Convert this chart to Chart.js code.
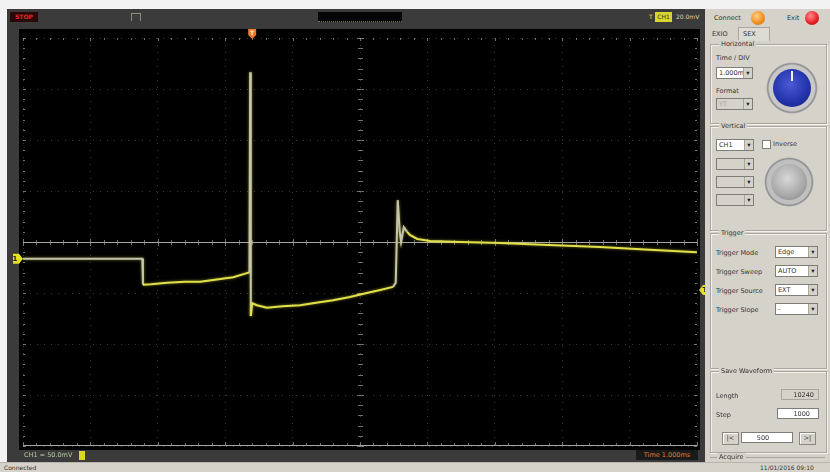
<!DOCTYPE html>
<html>
<head>
<meta charset="utf-8">
<script src="https://cdn.jsdelivr.net/npm/chart.js@4"></script>
<style>
  body { margin: 0; width: 830px; height: 472px; background: #f2f2f2; position: relative; overflow: hidden;
         font-family: "DejaVu Sans", sans-serif; font-size: 6.5px; color: #333; }
  .abs { position: absolute; }
  #frame { left: 7px; top: 9px; width: 698px; height: 453px; background: #3b3b3b; }
  #screen { left: 19px; top: 29px; width: 681px; height: 421px; background: #000; }
  #scope { left: 13px; top: 28px; }
  #panel { left: 705px; top: 9px; width: 125px; height: 454px; background: #d5d2ca; }
  #status { left: 0; top: 462px; width: 830px; height: 10px; background: #d5d2ca; border-top: 1px solid #b8b5ae; }
  .grp { position: absolute; border: 1px solid #a9a6a0; box-shadow: 1px 1px 0 #f4f2ee inset, 1px 1px 0 #f4f2ee; }
  .grp > .lbl { position: absolute; top: -5px; left: 8px; background: #d5d2ca; padding: 0 2px; }
  .sel { position: absolute; background: #fff; border: 1px solid #7f7d78; line-height: 10px; padding-left: 2px; box-sizing: border-box; height: 12px; }
  .sel.dis { background: #d5d2ca; color: #a8a6a0; }
  .sel::after { content: "\25BE"; position: absolute; right: 0; top: 0; width: 8px; height: 10px; background: #d5d2ca; border-left: 1px solid #a9a6a0; text-align: center; color: #222; }
  .knob { position: absolute; border-radius: 50%; }
  .btn { position: absolute; background: #d5d2ca; border: 1px solid #8a8780; box-shadow: 1px 1px 0 #fff inset; text-align: center; line-height: 10px; height: 11px; }
  .inp { position: absolute; background: #fff; border: 1px solid #7f7d78; height: 11px; line-height: 11px; text-align: right; padding-right: 8px; box-sizing: border-box; }
</style>
</head>
<body>
<div id="frame" class="abs"></div>
<!-- top bar -->
<div class="abs" style="left:10px;top:12px;width:28px;height:10px;background:#2a0808;color:#e02828;font-size:6px;line-height:10px;text-align:center;font-weight:bold;">STOP</div>
<div class="abs" style="left:131px;top:13px;width:8px;height:7px;border:1px solid #8a8a80;border-bottom:none;"></div>
<div class="abs" style="left:318px;top:12px;width:84px;height:10px;background:#050505;border-bottom:1px dotted #6a7a50;box-sizing:border-box;"></div>
<div class="abs" style="left:649px;top:13px;color:#e8e030;font-size:6px;">T</div>
<div class="abs" style="left:655px;top:12px;width:17px;height:10px;background:#d6d62c;color:#333;font-size:6px;line-height:10px;text-align:center;">CH1</div>
<div class="abs" style="left:676px;top:13px;color:#d8d8b0;font-size:6px;">20.0mV</div>
<div id="screen" class="abs"></div>
<canvas id="scope" class="abs" width="694" height="428"></canvas>
<!-- bottom bar -->
<div class="abs" style="left:24px;top:451px;color:#b8c8a0;font-size:6.5px;">CH1 &#8776; 50.0mV</div>
<div class="abs" style="left:79px;top:451px;width:6px;height:9px;background:#d6d62c;"></div>
<div class="abs" style="left:636px;top:450px;width:62px;height:10px;background:#1a1a1a;color:#e07a30;font-size:6.5px;line-height:10px;text-align:center;">Time 1.000ms</div>

<div id="panel" class="abs">
  <div class="abs" style="left:9px;top:5px;">Connect</div>
  <div class="knob" style="left:46px;top:2px;width:14px;height:14px;background:radial-gradient(circle at 40% 35%,#ffd08a,#f08a1c 60%,#c86a10);"></div>
  <div class="abs" style="left:82px;top:5px;">Exit</div>
  <div class="knob" style="left:100px;top:2px;width:14px;height:14px;background:radial-gradient(circle at 40% 35%,#ff8a8a,#e81c24 60%,#a81010);"></div>
  <div class="abs" style="left:7px;top:21px;">EXIO</div>
  <div class="abs" style="left:33px;top:18px;width:30px;height:13px;border:1px solid #a9a6a0;border-bottom:none;background:#dedbd4;"></div>
  <div class="abs" style="left:38px;top:21px;">SEX</div>

  <div class="grp" style="left:5px;top:35px;width:115px;height:78px;">
    <div class="lbl">Horizontal</div>
    <div class="abs" style="left:5px;top:9px;">Time / DIV</div>
    <div class="sel" style="left:5px;top:22px;width:37px;">1.000ms</div>
    <div class="abs" style="left:5px;top:42px;">Format</div>
    <div class="sel dis" style="left:5px;top:53px;width:37px;">YT</div>
    <div class="knob" style="left:55px;top:17px;width:52px;height:52px;background:radial-gradient(circle,#c8c8c8 62%,#8a8a8a 66%,#e8e8e8 72%,#9a9a9a 100%);"></div>
    <div class="knob" style="left:62px;top:24px;width:38px;height:38px;background:radial-gradient(circle at 45% 40%,#4a5ad8,#2232a8 60%,#14207a);"></div>
    <div class="abs" style="left:80px;top:26px;width:2px;height:10px;background:#f0f0f0;"></div>
  </div>

  <div class="grp" style="left:5px;top:117px;width:115px;height:103px;">
    <div class="lbl">Vertical</div>
    <div class="sel" style="left:5px;top:12px;width:38px;">CH1</div>
    <div class="abs" style="left:51px;top:13px;width:7px;height:7px;background:#fff;border:1px solid #7f7d78;"></div>
    <div class="abs" style="left:62px;top:13px;">Inverse</div>
    <div class="sel dis" style="left:5px;top:31px;width:38px;"></div>
    <div class="sel dis" style="left:5px;top:49px;width:38px;"></div>
    <div class="sel dis" style="left:5px;top:67px;width:38px;"></div>
    <div class="knob" style="left:53px;top:30px;width:50px;height:50px;background:radial-gradient(circle,#c0c0c0 62%,#8a8a8a 66%,#e8e8e8 72%,#9a9a9a 100%);"></div>
    <div class="knob" style="left:60px;top:37px;width:36px;height:36px;background:radial-gradient(circle at 45% 40%,#d8d8d8,#a8a8a8 60%,#7a7a7a);"></div>
  </div>

  <div class="grp" style="left:5px;top:224px;width:115px;height:134px;">
    <div class="lbl">Trigger</div>
    <div class="abs" style="left:5px;top:15px;">Trigger Mode</div>
    <div class="sel" style="left:64px;top:12px;width:43px;">Edge</div>
    <div class="abs" style="left:5px;top:34px;">Trigger Sweep</div>
    <div class="sel" style="left:64px;top:31px;width:43px;">AUTO</div>
    <div class="abs" style="left:5px;top:53px;">Trigger Source</div>
    <div class="sel" style="left:64px;top:50px;width:43px;">EXT</div>
    <div class="abs" style="left:5px;top:72px;">Trigger Slope</div>
    <div class="sel" style="left:64px;top:69px;width:43px;">-</div>
  </div>

  <div class="grp" style="left:5px;top:362px;width:115px;height:80px;">
    <div class="lbl">Save Waveform</div>
    <div class="abs" style="left:5px;top:20px;">Length</div>
    <div class="abs" style="left:70px;top:17px;width:38px;height:11px;border:1px solid #a9a6a0;text-align:right;line-height:11px;padding-right:4px;box-sizing:border-box;">10240</div>
    <div class="abs" style="left:5px;top:39px;">Step</div>
    <div class="inp" style="left:66px;top:36px;width:42px;">1000</div>
    <div class="btn" style="left:11px;top:60px;width:15px;">|&lt;</div>
    <div class="inp" style="left:30px;top:60px;width:52px;text-align:center;">500</div>
    <div class="btn" style="left:88px;top:60px;width:15px;">&gt;|</div>
  </div>
  <div class="abs" style="left:5px;top:448px;width:115px;height:8px;border-top:1px solid #a9a6a0;"></div>
  <div class="abs" style="left:12px;top:444px;background:#d5d2ca;padding:0 2px;">Acquire</div>
</div>
<div id="status" class="abs">
  <div class="abs" style="left:4px;top:1px;font-size:6px;">Connected</div>
  <div class="abs" style="left:760px;top:1px;font-size:6px;">11/01/2016 09:10</div>
</div>

<script>
// CH1 capture, time in ms (1.000ms/div), voltage in mV (50.0mV/div)
const timeMs = [0, 1.0, 1.77, 1.78, 1.9, 2.14, 2.4, 2.63, 2.9, 3.12, 3.32, 3.36, 3.37, 3.38, 3.40, 3.47,
  3.62, 3.85, 4.11, 4.35, 4.60, 4.85, 5.10, 5.30, 5.49, 5.53, 5.56, 5.59, 5.61, 5.65, 5.70, 5.74,
  5.85, 6.04, 6.5, 7.08, 7.8, 8.56, 9.3, 10];
const ch1mV = [-16.5, -16.5, -16.5, -42, -41.5, -40, -39, -39, -36.5, -34.5, -30.5, -30, 166.5, -72.5, -60, -62,
  -64.5, -63, -62, -59.5, -57, -54, -50, -47, -44, -40, 41, 10, 0, 14.5, 10, 7,
  3, 1, 0, -1, -3, -5, -7.5, -10];
// indices of segments drawn in the greyish colour (flat start, spikes)
const greySegments = [0, 1, 2, 11, 12, 24, 25, 26, 27, 28, 29];

const ch1Ground = -16.5;     // mV, CH1 marker level
const triggerLevel = -47;    // mV, trigger marker level
const triggerTime = 3.40;    // ms, trigger position marker

const yellow = '#e2e04a';

const scopePlugin = {
  id: 'scope',
  beforeDatasetsDraw(chart) {
    const { ctx, chartArea: a, scales: { x, y } } = chart;
    const cx = x.getPixelForValue(5), cy = y.getPixelForValue(0);
    const dx = (x.getPixelForValue(1) - x.getPixelForValue(0)) / 5;
    const dy = (y.getPixelForValue(0) - y.getPixelForValue(50)) / 5;
    ctx.save();
    ctx.strokeStyle = '#a6a6a6';
    ctx.lineWidth = 1;
    // centre horizontal axis
    ctx.beginPath();
    ctx.moveTo(a.left, Math.round(cy) + 0.5); ctx.lineTo(a.right, Math.round(cy) + 0.5);
    // bottom edge
    ctx.moveTo(a.left, Math.round(a.bottom) - 0.5); ctx.lineTo(a.right, Math.round(a.bottom) - 0.5);
    ctx.stroke();
    ctx.beginPath();
    for (let i = 0; i <= 50; i++) {
      const px = Math.round(a.left + i * dx) + 0.5;
      const h = i % 5 === 0 ? 3 : 2;
      ctx.moveTo(px, cy - h); ctx.lineTo(px, cy + h + 1);
      ctx.moveTo(px, a.bottom); ctx.lineTo(px, a.bottom - h - 1);
      ctx.moveTo(px, a.top); ctx.lineTo(px, a.top + h);
    }
    for (let i = 0; i <= 40; i++) {
      const py = Math.round(a.top + i * dy) + 0.5;
      const w = i % 5 === 0 ? 3 : 2;
      ctx.moveTo(cx - w, py); ctx.lineTo(cx + w + 1, py);
      ctx.moveTo(a.left, py); ctx.lineTo(a.left + w, py);
      ctx.moveTo(a.right, py); ctx.lineTo(a.right - w, py);
    }
    ctx.strokeStyle = 'rgba(160,160,160,0.7)';
    ctx.stroke();
    ctx.restore();
  },
  beforeDatasetDraw(chart) {
    chart.ctx.save();
    chart.ctx.shadowColor = 'rgba(230,230,70,0.55)';
    chart.ctx.shadowBlur = 3;
  },
  afterDatasetDraw(chart) {
    chart.ctx.restore();
  },
  afterDraw(chart) {
    const { ctx, chartArea: a, scales: { x, y } } = chart;
    ctx.save();
    // CH1 ground marker (left)
    const gy = y.getPixelForValue(ch1Ground);
    ctx.fillStyle = '#e6e024';
    ctx.beginPath();
    ctx.moveTo(a.left - 13, gy - 5); ctx.lineTo(a.left - 4, gy - 5); ctx.lineTo(a.left, gy);
    ctx.lineTo(a.left - 4, gy + 5); ctx.lineTo(a.left - 13, gy + 5); ctx.closePath(); ctx.fill();
    ctx.fillStyle = '#222';
    ctx.font = 'bold 7px "DejaVu Sans"';
    ctx.textAlign = 'center'; ctx.textBaseline = 'middle';
    ctx.fillText('1', a.left - 8, gy + 0.5);
    // trigger level marker (right)
    const ty = y.getPixelForValue(triggerLevel);
    ctx.fillStyle = '#e6e024';
    ctx.beginPath();
    ctx.moveTo(a.right + 2, ty); ctx.lineTo(a.right + 6, ty - 5); ctx.lineTo(a.right + 11, ty - 5);
    ctx.lineTo(a.right + 11, ty + 5); ctx.lineTo(a.right + 6, ty + 5); ctx.closePath(); ctx.fill();
    ctx.fillStyle = '#222';
    ctx.fillText('T', a.right + 8, ty + 0.5);
    // trigger position marker (top)
    const tx = x.getPixelForValue(triggerTime);
    ctx.fillStyle = '#e8782a';
    ctx.beginPath();
    ctx.moveTo(tx - 4, a.top - 9); ctx.lineTo(tx + 4, a.top - 9); ctx.lineTo(tx + 4, a.top - 3);
    ctx.lineTo(tx, a.top + 1); ctx.lineTo(tx - 4, a.top - 3); ctx.closePath(); ctx.fill();
    ctx.fillStyle = '#fff2d8';
    ctx.font = 'bold 6px "DejaVu Sans"';
    ctx.fillText('T', tx, a.top - 5);
    ctx.restore();
  }
};

const ctx = document.getElementById('scope').getContext('2d');
const scopeChart = new Chart(ctx, {
  type: 'line',
  data: {
    datasets: [{
      label: 'CH1',
      data: timeMs.map((t, i) => ({ x: t, y: ch1mV[i] })),
      borderColor: yellow,
      borderWidth: 2,
      pointRadius: 0,
      tension: 0,
      segment: {
        borderColor: c => greySegments.includes(c.p0DataIndex) ? '#c4c4ae' : yellow
      }
    }]
  },
  options: {
    responsive: false,
    animation: false,
    layout: { padding: { left: 10, right: 10, top: 10, bottom: 10 } },
    plugins: { legend: { display: false }, tooltip: { enabled: false } },
    scales: {
      x: {
        type: 'linear', min: 0, max: 10,
        ticks: { display: false, stepSize: 1 },
        grid: { color: 'rgba(140,140,140,0.4)', drawTicks: false },
        border: { display: false, dash: [1, 6] }
      },
      y: {
        min: -200, max: 200,
        ticks: { display: false, stepSize: 50 },
        grid: { color: 'rgba(140,140,140,0.4)', drawTicks: false },
        border: { display: false, dash: [1, 6] }
      }
    }
  },
  plugins: [scopePlugin]
});
</script>
</body>
</html>
